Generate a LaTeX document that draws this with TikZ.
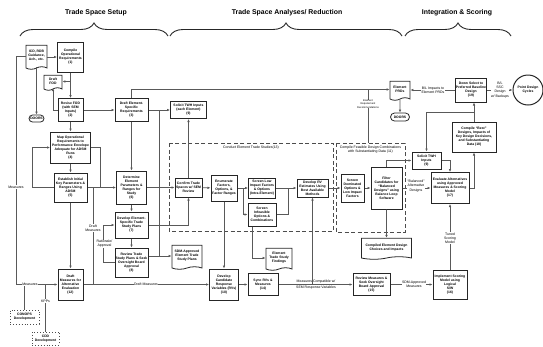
\documentclass[tikz,border=0pt]{standalone}
\usepackage{fontspec}
\setmainfont{Liberation Sans}
\usetikzlibrary{shapes.symbols,shapes.misc,arrows.meta,decorations.pathreplacing}

\newcommand*{\bx}{\bfseries\fontsize{3.4}{4.05}\selectfont}
\newcommand*{\lb}{\fontsize{3.5}{4.1}\selectfont}

\tikzset{
  wh/.style 2 args={minimum width=#1pt, minimum height=#2pt},
  proc/.style={draw=black!85, line width=1pt, align=center, font=\bx, inner sep=0.5pt},
  doc/.style={tape, tape bend top=none, tape bend height=2.5pt, draw=black!85,
    line width=0.8pt, align=center, font=\bx, inner sep=0.5pt},
  store/.style={rounded rectangle, draw=black!85, line width=0.8pt, font=\bx, inner sep=0.5pt},
  ext/.style={draw=black!70, dotted, line width=0.9pt, align=center, font=\bx, inner sep=0.5pt},
  con/.style={draw=black!65, line width=0.8pt},
  arr/.style={con, -{Latex[length=3pt,width=2.6pt]}},
  lbl/.style={font=\lb, align=center, fill=white, inner sep=0.4pt},
  zone/.style={draw=black!70, line width=0.9pt, dash pattern=on 4pt off 2.5pt},
  ttl/.style={font=\bfseries\fontsize{6.9}{8}\selectfont},
  brc/.style={draw=black!85, line width=0.9pt, decorate, decoration={brace, amplitude=13pt}},
}

\begin{document}
\begin{tikzpicture}[x=1pt, y=-1pt]
\useasboundingbox (0,0) rectangle (543,346);

% phase titles
\node[ttl] (setup) at (96,13) {Trade Space Setup};
\node[ttl] (analysis) at (287,13) {Trade Space Analyses/ Reduction};
\node[ttl] (integ) at (457,13) {Integration \& Scoring};
\draw[brc] (20,36) -- (168,36);
\draw[brc] (170,36) -- (402,36);
\draw[brc] (405,36) -- (511,36);

% trade space setup
\node[doc, wh={21}{24}] (icd) at (36.5,56) {ICD, RDB\\Guidance,\\Ach., etc.};
\node[proc, wh={26}{30}] (comp1) at (70.5,57) {Compile\\Operational\\Requirements\\(1)};
\node[doc, wh={18}{15}] (fod) at (53,81.5) {Draft\\FOD};
\node[proc, wh={25}{23}] (rev2) at (70.5,110) {Revise FOD\\(with SEM\\Inputs)\\(2)};
\node[store, wh={16}{7}] (doors) at (36.5,118.5) {DOORS};
\node[proc, wh={40}{31}] (map4) at (70.5,147.5) {Map Operational\\Requirements to\\Performance Envelope\\Adequate for ADSM\\Runs\\(4)};
\node[proc, wh={33}{29}] (est5) at (70.5,187.5) {Establish Initial\\Key Parameters \&\\Ranges Using\\ADSM\\(5)};
\node[proc, wh={25}{31}] (meas12) at (70.5,284.5) {Draft\\Measures for\\Alternative\\Evaluation\\(12)};
\node[ext, wh={29}{14}] (conops) at (24.5,317) {CONOPS\\Development};
\node[ext, wh={27}{13}] (cdd) at (45.5,338.5) {CDD\\Development};

\node[proc, wh={33}{23}] (req3) at (131.5,110) {Draft Element-\\Specific\\Requirements\\(3)};
\node[proc, wh={30}{33}] (par6) at (131.5,187.5) {Determine\\Element\\Parameters \&\\Ranges for\\Study\\(6)};
\node[proc, wh={33}{26}] (plan7) at (131.5,225) {Develop Element-\\Specific Trade\\Study Plans\\(7)};
\node[proc, wh={33}{29}] (rev8) at (131.5,262.5) {Review Trade\\Study Plans \& Seek\\Oversight Board\\Approval\\(8)};

% trade space analyses
\node[proc, wh={36}{17}] (twh9) at (188.5,110) {Solicit TWH Inputs\\(each Element)\\(9)};
\node[proc, wh={27}{19}] (conf) at (188.5,187.5) {Confirm Trade\\Spaces w/ SEM\\Review};
\node[doc, wh={30}{24}] (sdm) at (187,256) {SDM-Approved\\Element Trade\\Study Plans};
\node[proc, wh={26}{26}] (enum) at (224,188) {Enumerate\\Factors,\\Options, \&\\Factor Ranges};
\node[proc, wh={27}{20}] (low) at (262,188) {Screen Low\\Impact Factors\\\& Options\\(Intra-Element)};
\node[proc, wh={28}{23}] (infeas) at (262,214.5) {Screen\\Infeasible\\Options \&\\Combinations};
\node[proc, wh={31}{18}] (rv) at (312.5,188) {Develop RV\\Estimates Using\\Best Available\\Methods};
\node[doc, wh={26}{22}] (find) at (279,258) {Element\\Trade Study\\Findings};
\node[proc, wh={29}{31}] (cand10) at (224,284.5) {Develop\\Candidate\\Response\\Variables (RVs)\\(10)};
\node[proc, wh={30}{22}] (sync14) at (263,284.5) {Sync RVs \&\\Measures\\(14)};
\node[proc, wh={23}{28}] (dom) at (352.5,188) {Screen\\Dominated\\Options \&\\Low Impact\\Factors};
\node[proc, wh={31}{42}] (filt) at (386.5,188) {Filter\\Candidates for\\``Balanced\\Designs'' using\\Balance Loop\\Software};
\node[doc, wh={50}{21}] (cmpd) at (386.5,247.5) {Compiled Element Design\\Choices and Impacts};
\node[proc, wh={37}{22}] (rev15) at (371.5,284.5) {Review Measures \&\\Seek Oversight\\Board Approval\\(15)};
\node[doc, wh={20}{19}] (prds) at (400,89.5) {Element\\PRDs};
\node[store, wh={20}{8}] (doors2) at (400,117) {DOORS};

% integration and scoring
\node[proc, wh={34}{29}] (impl16) at (450,284.5) {Implement Scoring\\Model using\\Logical\\S/W\\(16)};
\node[proc, wh={38}{31}] (eval17) at (450,188) {Evaluate Alternatives\\using Approved\\Measures \& Scoring\\Model\\(17)};
\node[proc, wh={29}{17}] (twh9b) at (426.5,160.5) {Solicit TWH\\Inputs\\(9)};
\node[proc, wh={44}{30}] (best18) at (474,137) {Compile ``Best''\\Designs, Impacts of\\Key Design Decisions,\\and Substantiating\\Data (18)};
\node[proc, wh={31}{24}] (down19) at (471,90) {Down Select to\\Preferred Baseline\\Design\\(19)};
\node[circle, draw=black!85, line width=1pt, minimum size=30pt, inner sep=0pt,
  align=center, font=\bx] (pdc) at (528,90) {Point Design\\Cycles};

% dashed groups
\draw[zone] (169,143) rectangle (333,231);
\node[font=\lb] (conduct) at (251,148) {Conduct Element Trade Studies(13)};
\draw[zone] (336,143) rectangle (405,232);
\node[font=\lb, align=center] (feasible) at (370.5,150) {Compile Feasible Design Combinations\\with Substantiating Data (11)};

% setup connectors
\draw[arr] (icd.east |- comp1.west) -- (comp1.west);
\draw[arr] (comp1) -- (rev2);
\draw[arr] (comp1.south |- fod.east) -- (fod.east);
\draw[arr] (rev2.west) -| (fod.south);
\draw[arr] (icd.south) -- (doors.north);
\draw[arr] (rev2) -- (map4);
\draw[arr] (map4) -- (est5);
\draw[arr] (est5.west) -- ++(-21,0) |- (map4.west);
\draw[con] (map4.east) -| (100,187.5);
\draw[arr] (est5) -- (par6);
\draw[arr] (est5) -- (meas12);
\draw[arr] (icd.west) -- (16,56) |- (meas12.west);
\node[lbl] at (16,187) {Measures};
\draw[con] (conops.north) -- (conops.north |- meas12.west);
\draw[con] (cdd.north) -- (cdd.north |- meas12.west);
\node[lbl] at (30,284.5) {Measures};
\node[lbl] at (45.5,301) {KPPs};
\draw[con] (93,187.5) -- (93,284.5);
\node[lbl] at (93,228) {Draft\\Measures};
\draw[arr] (rev8.west) -- ++(-11,0) |- (plan7.west);
\node[lbl] at (104.5,244) {Rationale/\\Approval};
\draw[arr] (rev2) -- (req3);
\draw[arr] (req3) -- (par6);
\draw[arr] (par6) -- (plan7);
\draw[arr] (plan7) -- (rev8);

% analyses connectors
\draw[arr] (req3.north) |- (prds.west);
\draw[arr] (req3) -- (twh9);
\draw[con] (159,110) -- (159,256);
\draw[arr] (rev8.east |- sdm.west) -- (sdm.west);
\draw[arr] (par6) -- (conf);
\draw[arr] (conf) -- (twh9);
\draw[arr] (plan7.east) -| (conf.south);
\draw[arr] (conf) -- (enum);
\draw[arr] (enum) -- (low);
\draw[arr] ([xshift=6pt]enum.east) |- (infeas.west);
\draw[arr] (enum) -- (cand10);
\draw[arr] (low) -- (rv);
\draw[con] (infeas.east) -| (288,188);
\draw[arr] ([xshift=-10pt]infeas.south) |- (find.west);
\draw[arr] (meas12) -- (cand10);
\node[lbl] at (146,284.5) {Draft Measures};
\draw[arr] (cand10) -- (sync14);
\draw[arr] (sync14) -- (rev15);
\draw[arr] (rv.south |- sync14.east) -- (rv.south);
\node[font=\lb, align=center] at (316,284.5) {Measures Compatible w/\\[1.6pt]SEM Response Variables};
\draw[arr] (rv) -- (dom);
\draw[arr] (dom) -- (filt);
\draw[arr] (filt) -- (cmpd);
\draw[con] (368,143) -- (368,89.5);
\node[lbl, font=\fontsize{2.6}{3.1}\selectfont] at (368,104) {Element\\Requirement\\Recommendations};
\draw[arr] (prds) -- (doors2);

% scoring connectors
\draw[arr] (filt.north) |- (twh9b.west);
\draw[arr] (filt) -- (eval17);
\node[lbl] at (416,186) {``Balanced''\\Alternative\\Designs};
\draw[arr] (twh9b.east) -| (eval17.north);
\draw[arr] (eval17.east) -| (best18.south);
\draw[arr] (best18.north) -- (best18.north |- down19.south);
\draw[arr] (best18.north |- 0,112) -| (twh9b.north);
\draw[arr] (down19.west) -- (down19.west -| prds.east);
\node[lbl] at (433,90) {B/L Impacts to\\Element PRDs};
\draw[arr] (down19) -- (pdc);
\node[lbl] at (500,90) {B/L\\SSC\\Design\\w/ Backups};
\draw[arr] (rev15) -- (impl16);
\node[lbl] at (414,284.5) {SDM-Approved\\Measures};
\draw[arr] (impl16) -- (eval17);
\node[lbl] at (450,238) {Tuned\\Scoring\\Model};
\end{tikzpicture}
\end{document}
